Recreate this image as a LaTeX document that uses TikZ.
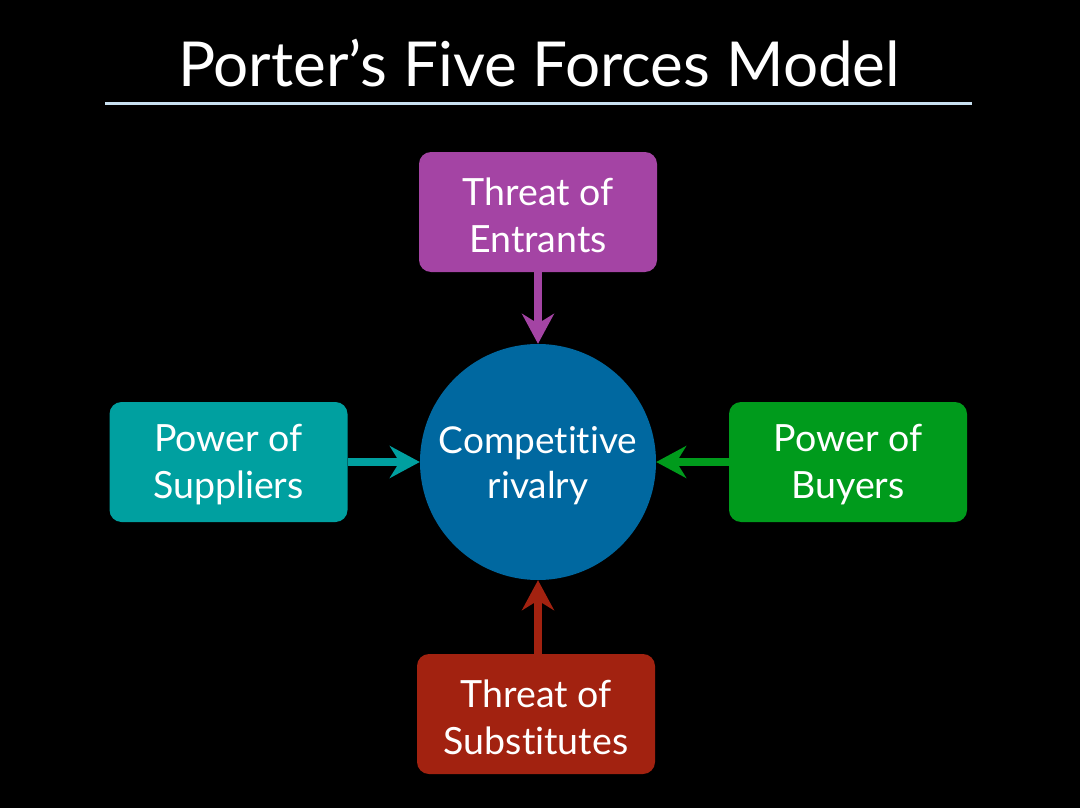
\documentclass[tikz,border=0pt]{standalone}
\usepackage{fontspec}
\setmainfont{Lato}[Ligatures={TeX,NoCommon}]
\usetikzlibrary{positioning,arrows.meta}
\definecolor{entrantcol}{RGB}{164,68,164}
\definecolor{suppliercol}{RGB}{0,160,160}
\definecolor{buyercol}{RGB}{0,155,28}
\definecolor{substcol}{RGB}{162,34,16}
\definecolor{rivalcol}{RGB}{0,104,160}
\definecolor{rulecol}{RGB}{200,224,240}

\begin{document}
\begin{tikzpicture}[x=1pt,y=-1pt,
  force/.style={rounded corners=12pt, minimum width=238pt, minimum height=120pt, inner sep=0pt},
  forcetext/.style={text=white, align=center, inner sep=0pt, font=\fontsize{37.5}{47}\selectfont},
  push/.style={line width=8pt, -{Stealth[length=30pt,width=32pt]}}]
% background
\fill[black] (0,0) rectangle (1080,808);
\useasboundingbox (0,0) rectangle (1080,808);

% title and rule
\node[anchor=base, text=white, font=\fontsize{62}{70}\selectfont] (title) at (539,87) {Porter's Five Forces Model};
\coordinate (ruleL) at (105,104);
\coordinate (ruleR) at (972,104);
\draw[rulecol, line width=3pt] (ruleL) -- (ruleR);

% centre
\node[circle, fill=rivalcol, minimum size=236pt, inner sep=0pt] (rival) at (538,462) {};
\node[forcetext, font=\fontsize{37}{45}\selectfont] (rivalText) at ([yshift=-4pt]rival.center) {Competitive\\rivalry};

% forces
\node[force, fill=entrantcol] (entrants) at (538,212) {};
\node[forcetext] (entrantsText) at ([yshift=-3pt]entrants.center) {Threat of\\Entrants};
\node[force, fill=suppliercol] (suppliers) at (228.5,462) {};
\node[forcetext] (suppliersText) at ([yshift=-3pt]suppliers.center) {Power of\\Suppliers};
\node[force, fill=buyercol] (buyers) at (848,462) {};
\node[forcetext] (buyersText) at ([yshift=-3pt]buyers.center) {Power of\\Buyers};
\node[force, fill=substcol] (substitutes) at (536,714) {};
\node[forcetext] (substitutesText) at ([yshift=-3pt]substitutes.center) {Threat of\\Substitutes};

% arrows
\draw[push, entrantcol] (entrants) -- (rival);
\draw[push, suppliercol] (suppliers) -- (rival);
\draw[push, buyercol] (buyers) -- (rival);
\draw[push, substcol] (substitutes.north -| rival) -- (rival);

\end{tikzpicture}
\end{document}
